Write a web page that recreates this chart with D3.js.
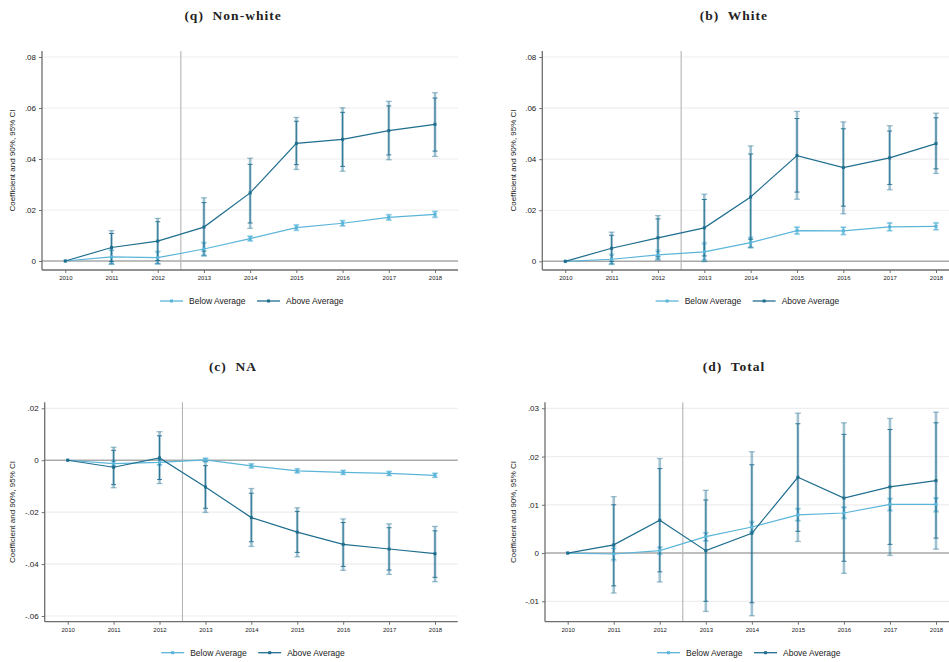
<!DOCTYPE html>
<html><head><meta charset="utf-8">
<script src="https://cdn.jsdelivr.net/npm/d3@7"></script>
<style>body{margin:0;background:#fff}svg{display:block}</style>
</head><body>
<svg id="chart" width="949" height="662"></svg>
<script>
// ---------- DATA ----------
const years = [2010, 2011, 2012, 2013, 2014, 2015, 2016, 2017, 2018];
const seriesNames = ["Below Average", "Above Average"];
const treatYear = 2012.5;

// (q) Non-white
const nwAbove      = [0, 0.0053, 0.0078, 0.0133, 0.0267, 0.0461, 0.0477, 0.0511, 0.0536];
const nwAboveCI90  = [[0,0],[-0.0002,0.0108],[0.0002,0.0154],[0.0039,0.0229],[0.0149,0.0379],[0.0378,0.0548],[0.0371,0.0583],[0.0416,0.0608],[0.0431,0.0639]];
const nwAboveCI95  = [[0,0],[-0.0012,0.0119],[-0.0011,0.0167],[0.0020,0.0248],[0.0128,0.0403],[0.0359,0.0563],[0.0352,0.0601],[0.0397,0.0626],[0.0410,0.0660]];
const nwBelow      = [0, 0.0016, 0.0013, 0.0047, 0.0088, 0.0131, 0.0148, 0.0171, 0.0183];
const nwBelowCI90  = [[0,0],[-0.0009,0.0041],[-0.0009,0.0035],[0.0024,0.0070],[0.0080,0.0096],[0.0122,0.0140],[0.0139,0.0157],[0.0162,0.0180],[0.0173,0.0193]];
const nwBelowCI95  = [[0,0],[-0.0014,0.0046],[-0.0013,0.0039],[0.0020,0.0074],[0.0077,0.0099],[0.0119,0.0143],[0.0136,0.0160],[0.0159,0.0183],[0.0170,0.0196]];

// (b) White
const whAbove      = [0, 0.0051, 0.0092, 0.0131, 0.0252, 0.0414, 0.0367, 0.0405, 0.0461];
const whAboveCI90  = [[0,0],[0.0000,0.0102],[0.0018,0.0166],[0.0021,0.0242],[0.0086,0.0420],[0.0271,0.0559],[0.0216,0.0519],[0.0301,0.0510],[0.0362,0.0562]];
const whAboveCI95  = [[0,0],[-0.0011,0.0114],[0.0005,0.0179],[-0.0001,0.0263],[0.0055,0.0452],[0.0243,0.0587],[0.0186,0.0546],[0.0280,0.0531],[0.0344,0.0580]];
const whBelow      = [0, 0.0008, 0.0025, 0.0037, 0.0073, 0.0120, 0.0119, 0.0135, 0.0137];
const whBelowCI90  = [[0,0],[-0.0008,0.0024],[0.0012,0.0038],[0.0006,0.0068],[0.0055,0.0091],[0.0108,0.0132],[0.0106,0.0132],[0.0121,0.0149],[0.0125,0.0149]];
const whBelowCI95  = [[0,0],[-0.0013,0.0029],[0.0005,0.0045],[0.0000,0.0074],[0.0051,0.0095],[0.0105,0.0136],[0.0103,0.0135],[0.0118,0.0152],[0.0122,0.0152]];

// (c) NA
const naAbove      = [0, -0.0027, 0.0009, -0.0103, -0.0221, -0.0277, -0.0324, -0.0342, -0.0360];
const naAboveCI90  = [[0,0],[-0.0094,0.0038],[-0.0074,0.0094],[-0.0185,-0.0021],[-0.0314,-0.0127],[-0.0355,-0.0197],[-0.0409,-0.0240],[-0.0423,-0.0260],[-0.0451,-0.0272]];
const naAboveCI95  = [[0,0],[-0.0106,0.0050],[-0.0090,0.0110],[-0.0201,-0.0003],[-0.0332,-0.0109],[-0.0372,-0.0183],[-0.0424,-0.0226],[-0.0440,-0.0245],[-0.0468,-0.0255]];
const naBelow      = [0, -0.0013, -0.0008, 0.0001, -0.0022, -0.0041, -0.0047, -0.0051, -0.0058];
const naBelowCI90  = [[0,0],[-0.0022,-0.0004],[-0.0017,0.0001],[-0.0005,0.0007],[-0.0029,-0.0015],[-0.0048,-0.0034],[-0.0054,-0.0040],[-0.0058,-0.0044],[-0.0065,-0.0051]];
const naBelowCI95  = [[0,0],[-0.0025,-0.0001],[-0.0020,0.0004],[-0.0007,0.0009],[-0.0031,-0.0013],[-0.0050,-0.0032],[-0.0056,-0.0038],[-0.0060,-0.0042],[-0.0067,-0.0049]];

// (d) Total
const toAbove      = [0, 0.0017, 0.0068, 0.0005, 0.0041, 0.0157, 0.0114, 0.0137, 0.0150];
const toAboveCI90  = [[0,0],[-0.0068,0.0100],[-0.0039,0.0175],[-0.0100,0.0110],[-0.0103,0.0183],[0.0045,0.0268],[-0.0017,0.0246],[0.0018,0.0256],[0.0031,0.0270]];
const toAboveCI95  = [[0,0],[-0.0083,0.0117],[-0.0060,0.0196],[-0.0121,0.0130],[-0.0130,0.0210],[0.0024,0.0290],[-0.0042,0.0270],[-0.0005,0.0279],[0.0008,0.0292]];
const toBelow      = [0, -0.0002, 0.0005, 0.0034, 0.0054, 0.0079, 0.0083, 0.0101, 0.0101];
const toBelowCI90  = [[0,0],[-0.0013,0.0009],[-0.0001,0.0011],[0.0026,0.0041],[0.0045,0.0063],[0.0068,0.0091],[0.0073,0.0094],[0.0089,0.0112],[0.0087,0.0113]];
const toBelowCI95  = [[0,0],[-0.0016,0.0013],[-0.0003,0.0013],[0.0024,0.0043],[0.0042,0.0066],[0.0066,0.0093],[0.0071,0.0096],[0.0087,0.0114],[0.0085,0.0115]];

const titles = ["(q)  Non-white", "(b)  White", "(c)  NA", "(d)  Total"];
const yTicks = [
  [0, 0.02, 0.04, 0.06, 0.08],
  [0, 0.02, 0.04, 0.06, 0.08],
  [-0.06, -0.04, -0.02, 0, 0.02],
  [-0.01, 0, 0.01, 0.02, 0.03]
];
const yAxisTitle = "Coefficient and 90%, 95% CI";

// ---------- LAYOUT ----------
const colors = {below: "#5bb5d9", above: "#1f6e8e"};
const panels = [
  {title: titles[0], ticks: yTicks[0], below: [nwBelow, nwBelowCI90, nwBelowCI95], above: [nwAbove, nwAboveCI90, nwAboveCI95],
   cx: 233, titleY: 20, axisX: 42, right: 458, top: 51, bottom: 270, x0: 65.3, x1: 435, yA: [0, 261], yB: [0.08, 57], legY: 301, yTitleX: 15},
  {title: titles[1], ticks: yTicks[1], below: [whBelow, whBelowCI90, whBelowCI95], above: [whAbove, whAboveCI90, whAboveCI95],
   cx: 734, titleY: 20, axisX: 542.3, right: 960, top: 51, bottom: 270, x0: 565.3, x1: 936, yA: [0, 261.3], yB: [0.08, 57], legY: 301, yTitleX: 516},
  {title: titles[2], ticks: yTicks[2], below: [naBelow, naBelowCI90, naBelowCI95], above: [naAbove, naAboveCI90, naAboveCI95],
   cx: 233, titleY: 371, axisX: 44.7, right: 457.7, top: 402.3, bottom: 621.7, x0: 67.7, x1: 435, yA: [0.02, 408.3], yB: [-0.06, 616], legY: 652.7, yTitleX: 15},
  {title: titles[3], ticks: yTicks[3], below: [toBelow, toBelowCI90, toBelowCI95], above: [toAbove, toAboveCI90, toAboveCI95],
   cx: 734, titleY: 371, axisX: 545, right: 960, top: 402.3, bottom: 621.7, x0: 567.7, x1: 936, yA: [0.03, 408.3], yB: [-0.01, 601.3], legY: 652.7, yTitleX: 516}
];

const svg = d3.select("#chart");
const fmt = v => {
  if (Math.abs(v) < 1e-12) return "0";
  let s = d3.format(".2f")(Math.abs(v)).replace(/^0/, "");
  return (v < 0 ? "-" : "") + s;
};

panels.forEach(p => {
  const g = svg.append("g");
  const x = d3.scaleLinear().domain([years[0], years[years.length - 1]]).range([p.x0, p.x1]);
  const y = d3.scaleLinear().domain([p.yA[0], p.yB[0]]).range([p.yA[1], p.yB[1]]);

  // title
  g.append("text").attr("x", p.cx).attr("y", p.titleY).attr("text-anchor", "middle")
    .attr("font-family", "'Liberation Serif', 'DejaVu Serif', serif").attr("font-weight", "bold")
    .attr("font-size", 13.5).attr("letter-spacing", 1).attr("fill", "#222").attr("xml:space", "preserve")
    .text(p.title);

  // gridlines
  g.selectAll(".grid").data(p.ticks.filter(t => Math.abs(t) > 1e-12)).enter().append("line")
    .attr("x1", p.axisX).attr("x2", p.right).attr("y1", d => y(d)).attr("y2", d => y(d))
    .attr("stroke", "#eeeeee").attr("stroke-width", 1.2);

  // zero line
  g.append("line").attr("x1", p.axisX).attr("x2", p.right).attr("y1", y(0)).attr("y2", y(0))
    .attr("stroke", "#a9a9a9").attr("stroke-width", 1.6);

  // treatment line
  g.append("line").attr("x1", x(treatYear)).attr("x2", x(treatYear)).attr("y1", p.top).attr("y2", p.bottom)
    .attr("stroke", "#b4b4b4").attr("stroke-width", 1.1);

  // y axis
  const yAxis = d3.axisLeft(y).tickValues(p.ticks).tickSize(3).tickPadding(3).tickFormat(fmt);
  const ya = g.append("g").attr("transform", `translate(${p.axisX},0)`).call(yAxis);
  ya.select(".domain").remove();
  ya.append("line").attr("x1", 0).attr("x2", 0).attr("y1", p.top).attr("y2", p.bottom).attr("stroke", "#6e6e6e").attr("stroke-width", 1.3);
  ya.selectAll(".tick line").attr("stroke", "#6e6e6e");
  ya.selectAll(".tick text").attr("font-family", "'Liberation Sans', Arial, sans-serif").attr("font-size", 8).attr("fill", "#222");

  // x axis
  const xAxis = d3.axisBottom(x).tickValues(years).tickSize(3).tickPadding(3).tickFormat(d3.format("d"));
  const xa = g.append("g").attr("transform", `translate(0,${p.bottom})`).call(xAxis);
  xa.select(".domain").remove();
  xa.append("line").attr("x1", p.axisX).attr("x2", p.right).attr("y1", 0).attr("y2", 0).attr("stroke", "#6e6e6e").attr("stroke-width", 1.3);
  xa.selectAll(".tick line").attr("stroke", "#6e6e6e");
  xa.selectAll(".tick text").attr("font-family", "'Liberation Sans', Arial, sans-serif").attr("font-size", 6).attr("fill", "#222");

  // y axis title
  g.append("text").attr("transform", `translate(${p.yTitleX},${(p.top + p.bottom) / 2}) rotate(-90)`)
    .attr("text-anchor", "middle").attr("font-family", "'Liberation Sans', Arial, sans-serif")
    .attr("font-size", 8).attr("fill", "#222").text(yAxisTitle);

  // series
  const drawSeries = (ser, col) => {
    const [coef, ci90, ci95] = ser;
    const pts = years.map((yr, i) => ({yr, v: coef[i], c90: ci90[i], c95: ci95[i]})).filter(d => d.yr !== years[0]);
    const sg = g.append("g");
    // 95% CI: wide translucent bar
    sg.selectAll(".b95").data(pts).enter().append("line")
      .attr("x1", d => x(d.yr)).attr("x2", d => x(d.yr)).attr("y1", d => y(d.c95[0])).attr("y2", d => y(d.c95[1]))
      .attr("stroke", col).attr("stroke-opacity", 0.42).attr("stroke-width", 2.6);
    [0, 1].forEach(k => {
      sg.selectAll(".c95" + k).data(pts).enter().append("line")
        .attr("x1", d => x(d.yr) - 3).attr("x2", d => x(d.yr) + 3).attr("y1", d => y(d.c95[k])).attr("y2", d => y(d.c95[k]))
        .attr("stroke", col).attr("stroke-opacity", 0.42).attr("stroke-width", 1.3);
    });
    // 90% CI: thin solid
    sg.selectAll(".b90").data(pts).enter().append("line")
      .attr("x1", d => x(d.yr)).attr("x2", d => x(d.yr)).attr("y1", d => y(d.c90[0])).attr("y2", d => y(d.c90[1]))
      .attr("stroke", col).attr("stroke-width", 0.9);
    [0, 1].forEach(k => {
      sg.selectAll(".c90" + k).data(pts).enter().append("line")
        .attr("x1", d => x(d.yr) - 2.5).attr("x2", d => x(d.yr) + 2.5).attr("y1", d => y(d.c90[k])).attr("y2", d => y(d.c90[k]))
        .attr("stroke", col).attr("stroke-width", 0.9);
    });
  };
  const drawLine = (ser, col) => {
    const coef = ser[0];
    const line = d3.line().x((d, i) => x(years[i])).y(d => y(d));
    g.append("path").datum(coef).attr("d", line).attr("fill", "none").attr("stroke", col).attr("stroke-width", 1.2);
    g.selectAll(null).data(coef).enter().append("rect")
      .attr("x", (d, i) => x(years[i]) - 1.5).attr("y", d => y(d) - 1.5).attr("width", 3).attr("height", 3).attr("fill", col);
  };
  drawSeries(p.below, colors.below);
  drawSeries(p.above, colors.above);
  drawLine(p.below, colors.below);
  drawLine(p.above, colors.above);

  // legend
  const lc = (p.axisX + Math.min(p.right, 949)) / 2 - 1;
  const items = [{name: seriesNames[0], col: colors.below, x: lc - 89}, {name: seriesNames[1], col: colors.above, x: lc + 8}];
  const lg = g.append("g");
  items.forEach(it => {
    lg.append("line").attr("x1", it.x).attr("x2", it.x + 23).attr("y1", p.legY).attr("y2", p.legY).attr("stroke", it.col).attr("stroke-width", 1.3);
    lg.append("rect").attr("x", it.x + 11.5 - 1.5).attr("y", p.legY - 1.5).attr("width", 3).attr("height", 3).attr("fill", it.col);
    lg.append("text").attr("x", it.x + 29).attr("y", p.legY + 3).attr("font-family", "'Liberation Sans', Arial, sans-serif")
      .attr("font-size", 8.5).attr("fill", "#222").text(it.name);
  });
});
</script>
</body></html>
